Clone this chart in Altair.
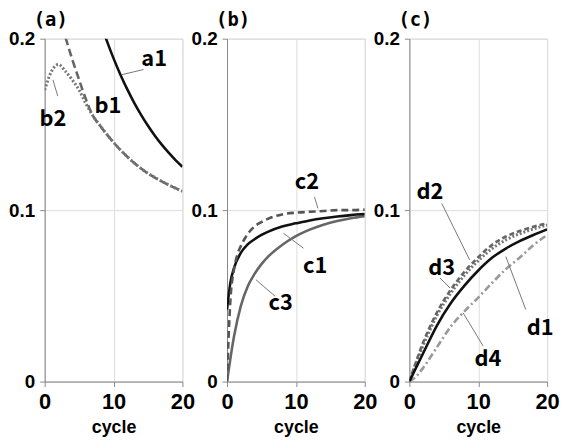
import altair as alt
import pandas as pd

# ---------------- data ----------------
# panel (a)
A1_X = [8, 9, 10, 11, 12, 13, 14, 15, 16, 17, 18, 19, 20]
A1_Y = [0.2105, 0.199, 0.1885, 0.179, 0.1704, 0.1626, 0.1556, 0.1492, 0.1434, 0.1382,
        0.1335, 0.1292, 0.1253]
B1_X = [2, 3, 4, 5, 6, 7, 8, 9, 10, 11, 12, 13, 14, 15, 16, 17, 18, 19, 20]
B1_Y = [0.214, 0.201, 0.188, 0.176, 0.1645, 0.155, 0.1495, 0.1443, 0.1395, 0.1351, 0.1311,
        0.1275, 0.1243, 0.1214, 0.119, 0.1168, 0.1147, 0.1128, 0.111]
B2_X = [0, 1, 2, 3, 4, 5, 6, 7, 8, 9, 10, 11, 12, 13, 14, 15, 16, 17, 18, 19, 20]
B2_Y = [0.170, 0.181, 0.185, 0.181, 0.176, 0.170, 0.162, 0.155, 0.1495, 0.1443, 0.1395,
        0.1351, 0.1311, 0.1275, 0.1243, 0.1214, 0.119, 0.1168, 0.1147, 0.1128, 0.111]

# panel (b)
C1_X = [0, 0.5, 1, 2, 3, 4, 5, 6, 8, 10, 12, 14, 16, 18, 20]
C1_Y = [0.042, 0.058, 0.066, 0.075, 0.080, 0.083, 0.0855, 0.0875, 0.0905, 0.0923, 0.094,
        0.0953, 0.0963, 0.0971, 0.0977]
C2_X = [0, 0.25, 0.5, 1, 1.5, 2, 3, 4, 5, 6, 8, 10, 12, 14, 16, 18, 20]
C2_Y = [0.0, 0.028, 0.048, 0.065, 0.074, 0.079, 0.086, 0.0905, 0.093, 0.095, 0.0975, 0.0985,
        0.099, 0.0995, 0.1, 0.1, 0.1003]
C3_X = [0, 1, 2, 3, 4, 5, 6, 8, 10, 12, 14, 16, 18, 20]
C3_Y = [0.0, 0.026, 0.044, 0.0555, 0.0628, 0.0685, 0.073, 0.0797, 0.0848, 0.0886, 0.0915,
        0.0937, 0.0953, 0.0965]

# panel (c)
D_X = [0, 2, 4, 6, 8, 10, 12, 14, 16, 18, 20]
D1_Y = [0.0, 0.0165, 0.0327, 0.0457, 0.0560, 0.0648, 0.0722, 0.0776, 0.0819, 0.0855, 0.0888]
D2_Y = [0.0, 0.0228, 0.0403, 0.0535, 0.0640, 0.0725, 0.0797, 0.0846, 0.0878, 0.0903, 0.0923]
D3_Y = [0.0, 0.0210, 0.0385, 0.0515, 0.0620, 0.0705, 0.0775, 0.0826, 0.0862, 0.0890, 0.0913]
D4_X = [0, 1, 2, 4, 6, 8, 10, 12, 14, 16, 18, 20]
D4_Y = [0.0, 0.003, 0.008, 0.020, 0.032, 0.041, 0.049, 0.0575, 0.0655, 0.0722, 0.0795, 0.0855]

# labels: text, x, y   and leader lines: x, y, x2, y2
LAB_A = [("a1", 15.9, 0.188), ("b1", 9.2, 0.1607), ("b2", 1.2, 0.153)]
LEAD_A = [(14.35, 0.182, 11.2, 0.179), (1.2, 0.176, 1.9, 0.1665)]
LAB_B = [("c2", 11.6, 0.1164), ("c1", 12.8, 0.0671), ("c3", 7.8, 0.0459)]
LEAD_B = [(12.7, 0.1077, 13.2, 0.101), (11.1, 0.0778, 8.2, 0.0865), (7.0, 0.0497, 4.2, 0.0594)]
LAB_C = [("d2", 3.0, 0.1106), ("d3", 4.7, 0.0662), ("d1", 19.0, 0.0314), ("d4", 11.4, 0.013)]
LEAD_C = [(4.7, 0.1039, 8.75, 0.071), (4.45, 0.0604, 5.9, 0.0546),
          (16.9, 0.042, 14.0, 0.0729), (10.7, 0.0208, 7.8, 0.0401)]

FONT = "Noto Sans CJK JP"

xscale = alt.Scale(domain=[0, 20], nice=False)
yscale = alt.Scale(domain=[0, 0.2], nice=False)
xaxis = alt.Axis(values=[0, 10, 20], title="cycle", labelFontSize=22, labelFlush=False,
                 labelOverlap=False, labelPadding=5, labelFontWeight="bold",
                 titleFontSize=18, titlePadding=6, titleFontWeight="bold")
yaxis = alt.Axis(values=[0, 0.1, 0.2], format="~g", title=None, labelFontSize=19,
                 labelFontWeight="bold", labelFlush=False, labelOverlap=False, labelPadding=5)


def series(xs, ys, color, dash, width=2.6):
    df = pd.DataFrame({"x": xs, "y": ys})
    kw = dict(color=color, strokeWidth=width, clip=True, interpolate="monotone")
    if dash:
        kw["strokeDash"] = dash
    return alt.Chart(df).mark_line(**kw).encode(
        x=alt.X("x:Q", scale=xscale, axis=xaxis),
        y=alt.Y("y:Q", scale=yscale, axis=yaxis),
    )


def labels(items):
    df = pd.DataFrame(items, columns=["t", "x", "y"])
    return alt.Chart(df).mark_text(font=FONT, fontSize=22, fontWeight="bold",
                                   color="black").encode(
        x=alt.X("x:Q", scale=xscale), y=alt.Y("y:Q", scale=yscale), text="t:N")


def leaders(items):
    df = pd.DataFrame(items, columns=["x", "y", "x2", "y2"])
    return alt.Chart(df).mark_rule(color="#777", strokeWidth=1).encode(
        x=alt.X("x:Q", scale=xscale), y=alt.Y("y:Q", scale=yscale), x2="x2:Q", y2="y2:Q")


def panel(layers, title):
    return alt.layer(*layers).properties(
        width=139, height=346,
        title=alt.TitleParams(title, anchor="start", frame="group", dx=-11, fontSize=19,
                              font="DejaVu Sans Mono", fontWeight="bold", offset=0),
    )


pa = panel([
    series(A1_X, A1_Y, "#111", None),
    series(B1_X, B1_Y, "#666", [8, 4]),
    series(B2_X, B2_Y, "#777", [2, 2], 3),
    leaders(LEAD_A), labels(LAB_A)], "(a)")

pb = panel([
    series(C3_X, C3_Y, "#666", None),
    series(C1_X, C1_Y, "#111", None),
    series(C2_X, C2_Y, "#555", [7, 4]),
    leaders(LEAD_B), labels(LAB_B)], "(b)")

pc = panel([
    series(D4_X, D4_Y, "#999", [7, 3, 2, 3]),
    series(D_X, D3_Y, "#777", [2, 2], 3),
    series(D_X, D2_Y, "#666", [5, 3]),
    series(D_X, D1_Y, "#111", None),
    leaders(LEAD_C), labels(LAB_C)], "(c)")

chart = alt.hconcat(pa, pb, pc, spacing=45, bounds="flush", padding=0).configure_view(
    stroke="#888", strokeWidth=1.5
).configure_axis(
    grid=True, gridColor="#aaa", gridWidth=1, tickSize=0, domain=False,
    labelFont=FONT, titleFont=FONT, labelColor="black", titleColor="black",
).configure(background="white")

chart.save("out.html", embed_options={"renderer": "svg", "actions": False})
